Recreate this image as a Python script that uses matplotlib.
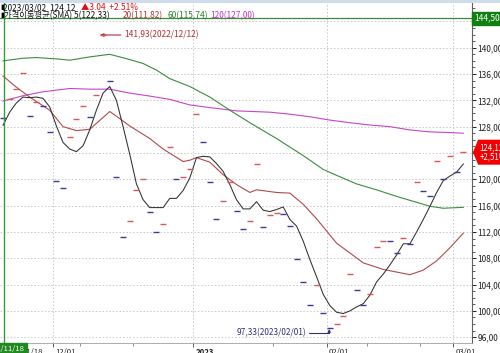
import matplotlib
matplotlib.use('Agg')
import matplotlib.pyplot as plt
import matplotlib.transforms as mtrans
from matplotlib.patches import Polygon, Rectangle
from matplotlib.ticker import FixedLocator, MultipleLocator, FuncFormatter

plt.rcParams['font.family'] = ['Noto Sans CJK KR', 'DejaVu Sans']

# daily closes, 2022/11/18 .. 2023/03/02 (index = trading day)
closes = [129.26, 132.15, 133.67, 136.10, 129.60, 131.70, 131.20, 127.20, 119.70, 118.70,
          126.50, 129.10, 131.10, 129.50, 132.80, 141.93, 135.00, 120.30, 111.27, 113.70,
          118.36, 120.03, 115.07, 112.03, 113.24, 124.90, 120.03, 120.29, 121.56, 129.92,
          125.71, 119.53, 113.90, 116.69, 119.53, 115.17, 112.43, 113.65, 122.37, 112.74,
          114.56, 114.86, 114.76, 112.84, 107.87, 104.37, 100.88, 103.92, 99.71, 97.33,
          97.94, 99.15, 105.64, 103.16, 100.88, 102.50, 109.70, 110.66, 110.60, 108.73,
          111.06, 110.15, 119.63, 118.21, 117.45, 122.82, 119.98, 123.58, 121.08, 124.12]

ma5 = [128.2, 130.2, 131.6, 132.5, 132.4, 132.5, 132.3, 131.0, 128.1, 125.6,
       124.6, 124.2, 125.1, 127.5, 130.5, 133.1, 134.1, 132.0, 128.0, 123.8,
       119.3, 116.9, 115.7, 115.7, 115.7, 117.1, 117.1, 118.3, 120.2, 123.3,
       123.5, 123.4, 122.4, 121.2, 119.2, 116.9, 115.5, 115.5, 116.6, 115.3,
       115.1, 115.4, 115.8, 113.9, 112.9, 110.6, 107.8, 105.2, 102.5, 100.8,
       99.8, 99.6, 100.0, 100.6, 101.1, 102.4, 104.4, 105.6, 107.0, 108.5,
       110.2, 110.2, 112.0, 113.9, 115.9, 118.0, 119.8, 120.5, 121.1, 122.33]

ma20_idx = [0, 2, 4, 7, 9, 11, 13, 14, 16, 17, 19, 22, 24, 27, 28, 29, 31, 33, 35,
            37, 38, 41, 43, 45, 47, 50, 52, 54, 57, 61, 63, 65, 67, 69]
ma20 = [135.7, 134.0, 132.5, 130.5, 128.0, 127.4, 127.6, 128.5, 130.3, 129.6, 128.1,
        126.2, 124.6, 122.7, 122.9, 123.3, 122.6, 120.7, 119.2, 118.0, 118.4, 118.0,
        117.9, 116.2, 114.0, 110.3, 108.8, 107.3, 106.3, 105.5, 106.2, 107.6, 109.6, 111.82]

ma60_idx = [0, 3, 5, 8, 10, 13, 16, 19, 21, 23, 25, 28, 31, 34, 37, 41, 45, 48, 50,
            53, 56, 59, 62, 64, 66, 69]
ma60 = [138.0, 138.4, 138.5, 138.3, 138.1, 138.6, 139.0, 138.2, 137.6, 136.6, 135.3,
        134.1, 132.5, 130.5, 128.6, 126.2, 123.6, 121.5, 120.6, 119.3, 118.4, 117.4,
        116.5, 115.9, 115.6, 115.74]

ma120_idx = [0, 3, 6, 10, 13, 16, 19, 22, 25, 28, 31, 35, 40, 43, 46, 49, 52, 55, 58,
             61, 64, 67, 69]
ma120 = [131.9, 132.7, 133.3, 133.8, 133.7, 133.7, 133.1, 132.65, 132.15, 131.3, 130.9,
         130.4, 130.2, 129.9, 129.5, 129.0, 128.6, 128.25, 128.0, 127.5, 127.2, 127.1, 127.0]

xtick_pos = [2.6, 7.5, 28.5, 48.5, 67.5]
xtick_lab = ['11/18', '12/01', '2023', '02/01', '03/01']
xminor_pos = [11.5, 19.5, 40.5, 54.5, 62.5]

hi_idx, hi_val = 15, 141.93
lo_idx, lo_val = 49, 97.33
level_line = 144.5

RED_DASH = '#d85858'
BLUE_DASH = '#3a3a9c'

fig = plt.figure(figsize=(5, 3.53), dpi=100)
ax = fig.add_axes([0, 10 / 353, 472 / 500, 343 / 353])
ax.set_xlim(-0.45, 70.3)
ax.set_ylim(95.12, 147.25)

# grid
ax.yaxis.set_major_locator(MultipleLocator(4))
ax.yaxis.set_minor_locator(MultipleLocator(1))
ax.xaxis.set_major_locator(FixedLocator(xtick_pos))
ax.xaxis.set_minor_locator(FixedLocator(xminor_pos))
for v in range(96, 148, 4):
    ax.axhline(v, color='#c8c8c8', lw=0.7, ls=(0, (1.5, 2)), zorder=0)
for p in xtick_pos[1:]:
    ax.axvline(p, color='#c8c8c8', lw=0.7, ls=(0, (1.5, 2)), zorder=0)

# moving averages
ax.plot(ma120_idx, ma120, color='#c844c8', lw=0.8, zorder=2)
ax.plot(ma60_idx, ma60, color='#3c8c3c', lw=0.8, zorder=2)
ax.plot(ma20_idx, ma20, color='#b04a4a', lw=0.8, zorder=2)
ax.plot(range(len(ma5)), ma5, color='#303030', lw=0.75, zorder=3)

# close ticks: red = up, blue = down
for i, c in enumerate(closes):
    up = i > 0 and c > closes[i - 1]
    ax.plot(i, c, marker='_', ms=4.5, mew=1.0, color=RED_DASH if up else BLUE_DASH, zorder=4)

# level line
ax.axhline(level_line, color='#3a8a3a', lw=0.9, zorder=2)

# cursor line at first date
ax.axvline(0.15, ymin=-0.03, ymax=1, color='#3a9a3a', lw=1.0, clip_on=False, zorder=5)

# high / low annotations
ax.annotate(f'{hi_val:.2f}'.replace('.', ',') + '(2022/12/12)', xy=(hi_idx - 0.5, hi_val),
            xytext=(hi_idx + 3.1, hi_val), color='#b03030', fontsize=6, va='center', ha='left',
            arrowprops=dict(arrowstyle='-|>,head_length=0.35,head_width=0.15', color='#b03030',
                            lw=0.8, shrinkA=0, shrinkB=0))
ax.annotate(f'{lo_val:.2f}'.replace('.', ',') + '(2023/02/01)', xy=(lo_idx - 0.1, lo_val),
            xytext=(lo_idx - 3.6, 96.64), color='#303080', fontsize=6, va='center', ha='right',
            arrowprops=dict(arrowstyle='-|>,head_length=0.3,head_width=0.12', color='#303080',
                            lw=0.8, shrinkA=0, shrinkB=0, relpos=(1, 0.5),
                            connectionstyle='angle,angleA=0,angleB=90,rad=0'))

# axes styling
for s in ['left', 'top']:
    ax.spines[s].set_visible(False)
ax.spines['right'].set_color('#606060')
ax.spines['right'].set_linewidth(0.8)
ax.spines['bottom'].set_color('#a0a0a0')
ax.spines['bottom'].set_linewidth(0.6)
ax.yaxis.tick_right()
ax.set_yticks(range(96, 141, 4))
# the 124 label sits under the last-price box, as in the source chart
ax.yaxis.set_major_formatter(FuncFormatter(
    lambda v, p: '' if v == 124 else f'{v:.2f}'.replace('.', ',')))
ax.tick_params(axis='y', which='major', length=3, width=0.7, pad=1, labelsize=6, colors='#202020')
ax.tick_params(axis='y', which='minor', length=2, width=0.6, colors='#404040')
ax.set_xticklabels(xtick_lab)
ax.tick_params(axis='x', which='major', length=3, width=0.6, pad=0.5, labelsize=5.6,
               colors='#404040', labelcolor='#202020')
ax.tick_params(axis='x', which='minor', length=2, width=0.6, colors='#808080')
for lab in ax.get_xticklabels():
    lab.set_ha('left')
    if lab.get_text() == '2023':
        lab.set_fontweight('bold')
off = mtrans.ScaledTranslation(1.5 / 72, 0, fig.dpi_scale_trans)
for lab in ax.get_xticklabels():
    lab.set_transform(lab.get_transform() + off)

# right-side value boxes
tr = mtrans.blended_transform_factory(ax.transAxes, ax.transData)
ax.text(1.004, level_line, '144,50', transform=tr, fontsize=6, color='white', va='center', ha='left',
        clip_on=False, zorder=6,
        bbox=dict(boxstyle='square,pad=0.25', fc='#108010', ec='#108010'))
last = closes[-1]
ax.add_patch(Polygon([(1.002, last), (1.013, last + 1.9), (1.08, last + 1.9),
                      (1.08, last - 1.9), (1.013, last - 1.9)], closed=True,
                     transform=tr, fc='#f00000', ec='none', clip_on=False, zorder=6))
ax.text(1.016, last, f'{last:.2f}'.replace('.', ',') + '\n+2,51%', transform=tr, fontsize=5.7,
        color='white', va='center', ha='left', linespacing=0.95, clip_on=False, zorder=7)

# bottom-left date box
fig.text(25 / 500, 4 / 353, '2022/11/18', fontsize=5.6, color='white', ha='right', va='center',
         bbox=dict(boxstyle='square,pad=0.2', fc='#208a20', ec='#208a20'), zorder=10)

# header
fig.add_artist(Rectangle((0, 1 - 2.5 / 353), 1, 2.5 / 353, transform=fig.transFigure,
                         fc='#cfdceb', ec='none'))
fam = ['Noto Sans CJK KR', 'DejaVu Sans']
y1 = 1 - 7.5 / 353
y2 = 1 - 15.5 / 353
fs = 6.0
fig.text(0 / 500, y1, '▮', fontsize=5, family=['DejaVu Sans'], va='center')
fig.text(3 / 500, y1, '2023/03/02  124.12', fontsize=fs, family=fam, va='center', color='#101010')
fig.text(81 / 500, y1, '▲3.04  +2.51%', fontsize=fs, family=fam, va='center', color='#e01010')
fig.text(0 / 500, y2, '▮', fontsize=5, family=['DejaVu Sans'], va='center')
fig.text(4 / 500, y2, '가격이동평균(SMA) 5(122,33)', fontsize=fs, family=fam, va='center', color='#101010')
fig.text(123 / 500, y2, '20(111,82)', fontsize=fs, family=fam, va='center', color='#b03030')
fig.text(167 / 500, y2, '60(115,74)', fontsize=fs, family=fam, va='center', color='#2a7a2a')
fig.text(210 / 500, y2, '120(127,00)', fontsize=fs, family=fam, va='center', color='#c030c0')

fig.savefig('out.png', dpi=100, facecolor='white')
